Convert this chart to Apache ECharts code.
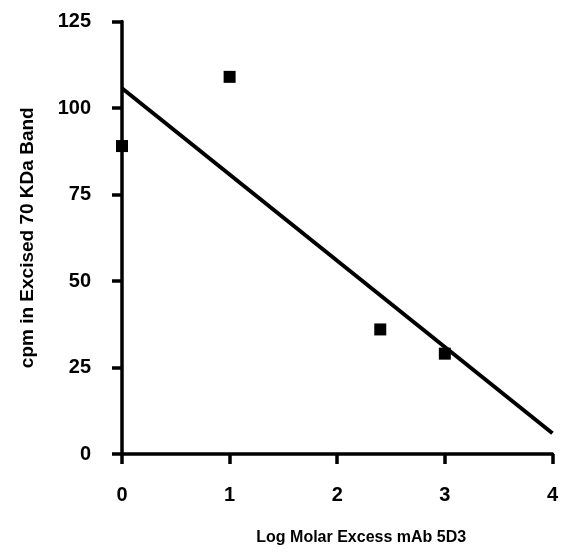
<!DOCTYPE html>
<html>
<head>
<meta charset="utf-8">
<script src="https://cdn.jsdelivr.net/npm/echarts@6/dist/echarts.min.js"></script>
<style>
  html, body { margin: 0; padding: 0; background: #fff; }
  #main { width: 561px; height: 554px; }
</style>
</head>
<body>
<div id="main"></div>
<script>
// 数据
var pointX = [0, 1, 2.4, 3];
var pointY = [89, 109, 36, 29];
// 拟合直线两端
var lineX = [0, 4];
var lineY = [105.7, 6];
var xTicks = [0, 1, 2, 3, 4];
var yTicks = [0, 25, 50, 75, 100, 125];

var myChart = echarts.init(document.getElementById('main'));
var option = {
    backgroundColor: '#fff',
    animation: false,
    grid: {
        left: 122,
        right: 6,
        top: 21.5,
        bottom: 100
    },
    xAxis: {
        type: 'value',
        min: xTicks[0],
        max: xTicks[xTicks.length - 1],
        interval: 1,
        name: 'Log Molar Excess mAb 5D3',
        nameLocation: 'middle',
        nameGap: 76,
        nameTextStyle: {
            color: '#000',
            fontFamily: 'Liberation Sans, Arial',
            fontSize: 16,
            fontWeight: 'bold',
            padding: [0, 0, 0, 48]
        },
        axisLine: { lineStyle: { color: '#000', width: 3.5 } },
        axisTick: { inside: false, length: 10, lineStyle: { color: '#000', width: 3.5 } },
        axisLabel: {
            margin: 31,
            color: '#000',
            fontFamily: 'Liberation Sans, Arial',
            fontSize: 20,
            fontWeight: 'bold'
        },
        splitLine: { show: false }
    },
    yAxis: {
        type: 'value',
        min: yTicks[0],
        max: yTicks[yTicks.length - 1],
        interval: 25,
        name: 'cpm in Excised 70 KDa Band',
        nameLocation: 'middle',
        nameGap: 85,
        nameTextStyle: {
            color: '#000',
            fontFamily: 'Liberation Sans, Arial',
            fontSize: 19,
            fontWeight: 'bold'
        },
        axisLine: { show: true, lineStyle: { color: '#000', width: 3.5 } },
        axisTick: { show: true, inside: false, length: 10, lineStyle: { color: '#000', width: 3.5 } },
        axisLabel: {
            margin: 31,
            color: '#000',
            fontFamily: 'Liberation Sans, Arial',
            fontSize: 20,
            fontWeight: 'bold'
        },
        splitLine: { show: false }
    },
    series: [
        {
            type: 'line',
            data: lineX.map(function (x, i) { return [x, lineY[i]]; }),
            showSymbol: false,
            symbol: 'none',
            lineStyle: { color: '#000', width: 4 },
            z: 3
        },
        {
            type: 'scatter',
            data: pointX.map(function (x, i) { return [x, pointY[i]]; }),
            symbol: 'rect',
            symbolSize: 12,
            itemStyle: { color: '#000', opacity: 1 },
            z: 4
        }
    ]
};
myChart.setOption(option);
</script>
</body>
</html>
